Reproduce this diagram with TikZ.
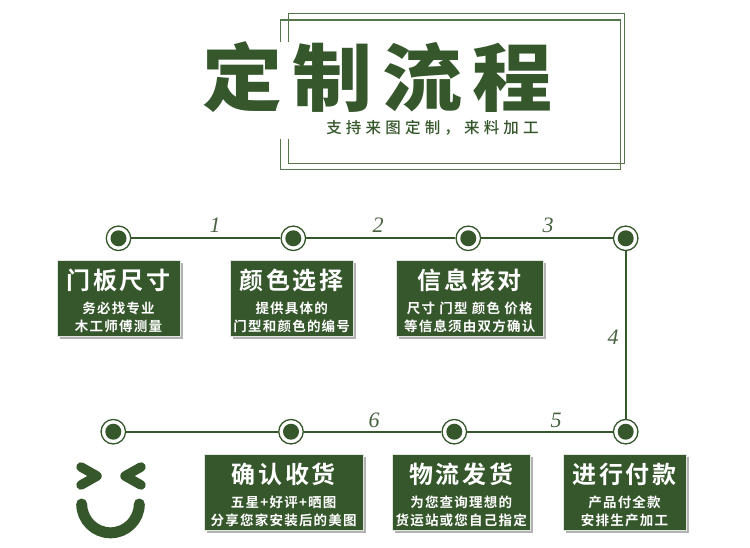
\documentclass[tikz,border=0pt]{standalone}
\usepackage{fontspec}
\usetikzlibrary{shadows}
\newfontfamily\cjktitle[LetterSpace=12.5]{Noto Sans CJK SC Black}
\newfontfamily\cjkhead[LetterSpace=11]{Noto Sans CJK SC Bold}
\newfontfamily\cjksub[LetterSpace=9]{Noto Sans CJK SC Bold}
\newfontfamily\cjkslogan[LetterSpace=27]{Noto Sans CJK SC Medium}
\newfontfamily\stepfont{Liberation Serif}
\definecolor{flowgreen}{HTML}{35572B}
\definecolor{framegreen}{HTML}{55754B}
\tikzset{
	ringdot/.style = {circle, draw = flowgreen, line width = 1.3pt, fill = white, minimum size = 24.5pt, inner sep = 0pt},
	flowline/.style = {draw = flowgreen, line width = 2pt},
	flowbox/.style = {fill = flowgreen, draw = white!85!flowgreen, line width = 0.6pt, minimum height = 76pt, inner sep = 0pt,
		drop shadow = {shadow xshift = 3pt, shadow yshift = -3pt, fill = black, opacity = 0.3}},
	boxtext/.style = {text = white, align = center, inner sep = 0pt, yshift = -2.75pt, font = \fontsize{13.5}{18}\selectfont},
	stepnum/.style = {text = flowgreen!75!gray, font = \fontsize{22}{22}\selectfont\stepfont\itshape},
	framebox/.style = {draw = framegreen, line width = 1.2pt},
	smile/.style = {draw = flowgreen, line cap = round, line join = round}
}
\begin{document}
\begin{tikzpicture}[x = 1pt, y = -1pt]
	\useasboundingbox (0,0) rectangle (750,547);
	% frames
	\draw [framebox] (288.3,42) -- (288.3,13.3) -- (624.3,13.3) -- (624.3,163.3) -- (288.3,163.3) -- (288.3,139);
	\draw [framebox] (280.3,42) -- (280.3,20) -- (620.7,20) -- (620.7,169.3) -- (280.3,169.3) -- (280.3,139);
	\node (title) at (377,77) [text = flowgreen, yscale = 0.92, transform shape, font = \fontsize{80}{80}\selectfont\cjktitle] {定制流程};
	\node (slogan) at (432.5,128) [text = flowgreen, font = \fontsize{15.5}{16}\selectfont\cjkslogan] {支持来图定制，来料加工};
	% steps
	\foreach \n/\x/\y in {a/118.5/238.3, b/293.3/238.3, c/468.3/238.3, d/625.7/238.3, e/625.7/431.7, f/454.3/431.7, g/291/431.7, h/113.3/431.7}
	\node (\n) at (\x,\y) [ringdot] {};
	\draw [flowline] (a) -- (b);
	\draw [flowline] (b) -- (c);
	\draw [flowline] (c) -- (d);
	\draw [flowline] (d) -- (e);
	\draw [flowline] (e) -- (f);
	\draw [flowline] (f) -- (g);
	\draw [flowline] (g) -- (h);
	\foreach \n in {a,b,c,d,e,f,g,h}
	\fill [flowgreen] (\n) circle (8);
	\foreach \n/\x/\y/\t in {one/215/225/1, two/378/225/2, three/548/225/3, four/613/337/4, five/556/420/5, six/374/420/6}
	\node (\n) at (\x,\y) [stepnum] {\t};
	% boxes
	\foreach \n/\x/\y/\w/\h/\s/\t in {
		boxa/118.5/298/123/门板尺寸/务必找专业/木工师傅测量,
		boxb/291.7/298/123/颜色选择/提供具体的/门型和颜色的编号,
		boxc/469.7/298/147/信息核对/尺寸 门型 颜色 价格/等信息须由双方确认,
		boxd/624.5/492/123/进行付款/产品付全款/安排生产加工,
		boxe/461.2/492/138/物流发货/为您查询理想的/货运站或您自己指定,
		boxf/283.7/492/159/确认收货/五星+好评+晒图/分享您家安装后的美图}
	{
		\node (\n) at (\x,\y) [flowbox, minimum width = \w pt] {};
		\node (\n text) at (\n) [boxtext] {{\fontsize{24}{24}\selectfont\cjkhead \h}\\[5.5pt]{\cjksub \s}\\{\cjksub \t}};
	}
	% face
	\draw [smile, line width = 9.5pt] (81,467) -- (97,476) -- (81,485);
	\draw [smile, line width = 9.5pt] (141,467) -- (125,476) -- (141,485);
	\draw [smile, line width = 11pt] (81.7,504) arc [start angle = 180, end angle = 0, radius = 28.8];
\end{tikzpicture}
\end{document}
